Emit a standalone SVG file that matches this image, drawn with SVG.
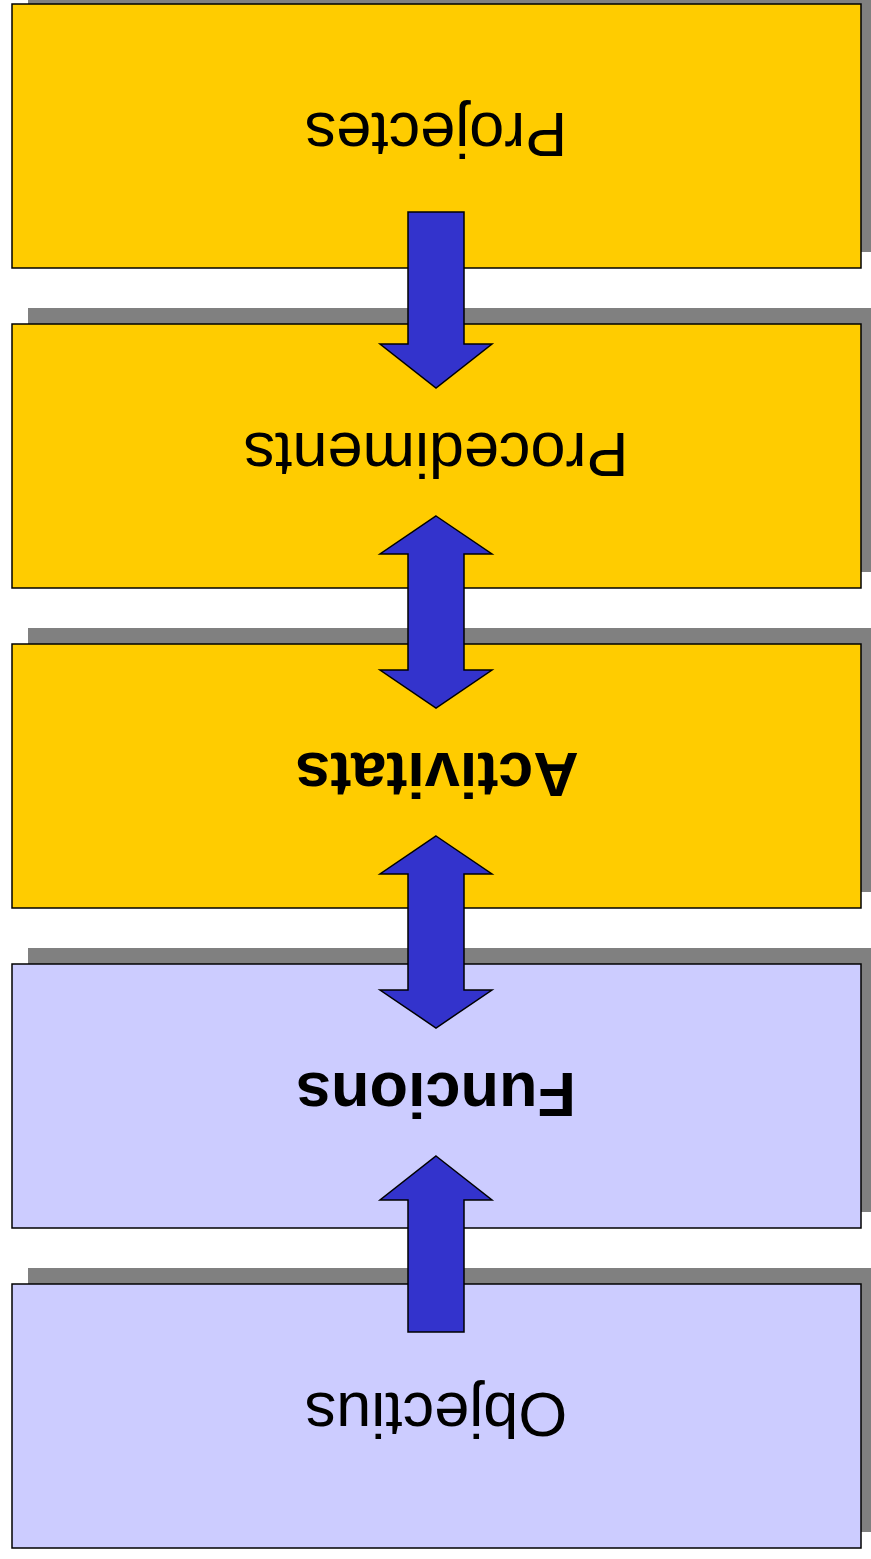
<svg xmlns="http://www.w3.org/2000/svg" width="871" height="1559" viewBox="0 0 871 1559">
<style>
.sh{fill:#808080;stroke:none}
.y{fill:#FFCC00;stroke:#000;stroke-width:1.5}
.l{fill:#CCCCFF;stroke:#000;stroke-width:1.5}
.t{font-family:"Liberation Sans",Arial,sans-serif;font-size:63px;fill:#000;text-anchor:middle}
.b{font-weight:bold}
.ar{fill:#3333CC;stroke:#000;stroke-width:1.5;stroke-linejoin:miter}
</style>
<rect width="871" height="1559" fill="#fff"/>
<g id="projectes">
<rect class="sh" x="28" y="-12" width="849" height="264"/>
<rect class="y" x="12" y="4" width="849" height="264"/>
<text class="t" transform="translate(436,113) rotate(180)">Projectes</text>
</g>
<g id="procediments">
<rect class="sh" x="28" y="308" width="849" height="264"/>
<rect class="y" x="12" y="324" width="849" height="264"/>
<text class="t" transform="translate(436,433) rotate(180)">Procediments</text>
</g>
<g id="activitats">
<rect class="sh" x="28" y="628" width="849" height="264"/>
<rect class="y" x="12" y="644" width="849" height="264"/>
<text class="t b" transform="translate(437,753) rotate(180)">Activitats</text>
</g>
<g id="funcions">
<rect class="sh" x="28" y="948" width="849" height="264"/>
<rect class="l" x="12" y="964" width="849" height="264"/>
<text class="t b" transform="translate(436,1073) rotate(180)">Funcions</text>
</g>
<g id="objectius">
<rect class="sh" x="28" y="1268" width="849" height="264"/>
<rect class="l" x="12" y="1284" width="849" height="264"/>
<text class="t" transform="translate(436,1393) rotate(180)">Objectius</text>
</g>
<g id="connectors">
<path class="ar" d="M408,212 H464 V344 H492 L436,388 L380,344 H408 Z"/>
<path class="ar" d="M436,516 L492,554 H464 V670 H492 L436,708 L380,670 H408 V554 H380 Z"/>
<path class="ar" d="M436,836 L492,874 H464 V990 H492 L436,1028 L380,990 H408 V874 H380 Z"/>
<path class="ar" d="M436,1156 L492,1200 H464 V1332 H408 V1200 H380 Z"/>
</g>
</svg>
